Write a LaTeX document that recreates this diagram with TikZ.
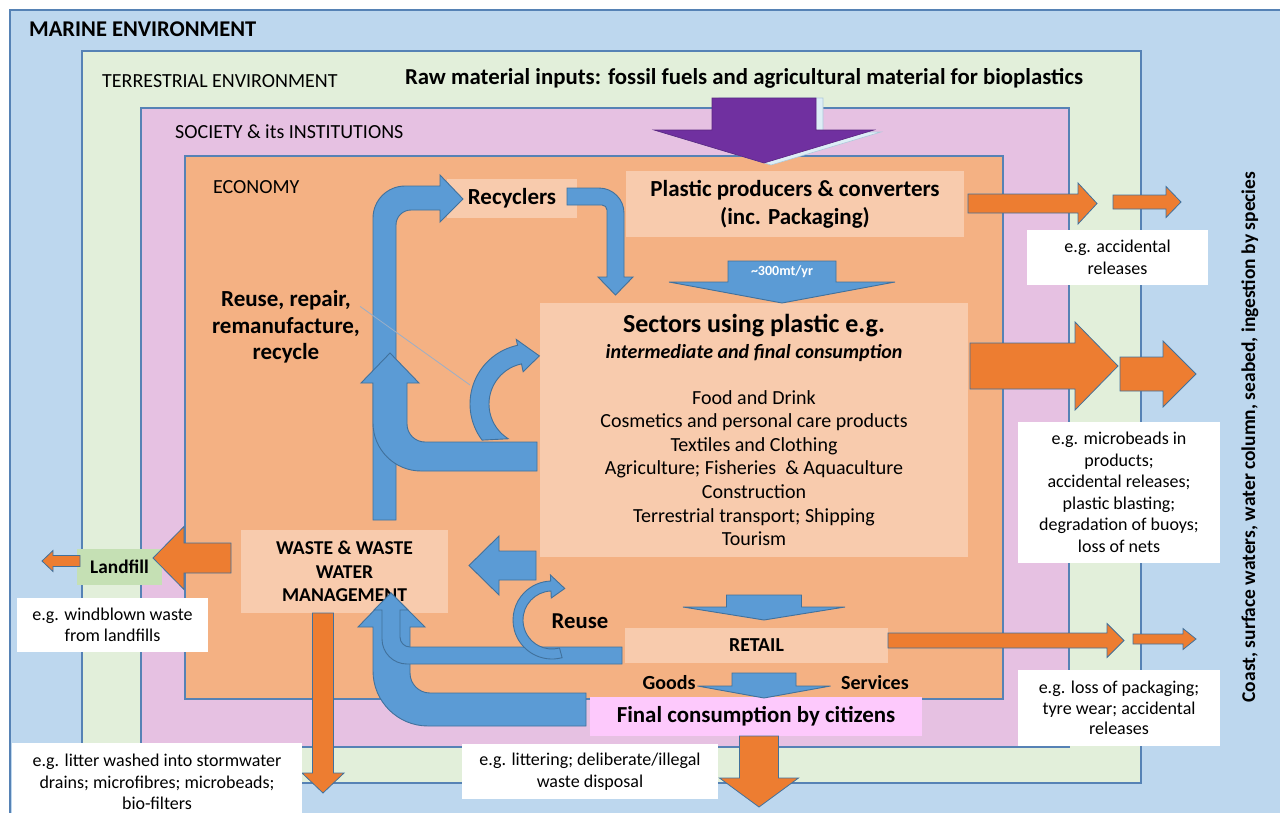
\documentclass[tikz,border=0pt]{standalone}
\usepackage{fontspec}
\setmainfont{Carlito}
\usetikzlibrary{calc}

\definecolor{marine}{HTML}{BDD7EE}
\definecolor{terrestrial}{HTML}{E2EFDA}
\definecolor{society}{HTML}{E6C1E2}
\definecolor{economy}{HTML}{F4B183}
\definecolor{peach}{HTML}{F8CBAD}
\definecolor{landgreen}{HTML}{C5E0B4}
\definecolor{finalpink}{HTML}{FDC9FC}
\definecolor{frame}{HTML}{5682B5}
\definecolor{arrblue}{HTML}{5B9BD5}
\definecolor{arredge}{HTML}{41719C}
\definecolor{arrorange}{HTML}{ED7D31}
\definecolor{arrpurple}{HTML}{7030A0}
\definecolor{purplehi}{HTML}{DDEEF6}
\definecolor{callout}{HTML}{9AAFC8}

% block arrows: style, start, tip, centre, shaft half width, head half width, head length
\newcommand{\rightblock}[7]{%
  \filldraw[#1] (#2,{#4-#5}) -- ({#3-#7},{#4-#5}) -- ({#3-#7},{#4-#6}) -- (#3,#4)
    -- ({#3-#7},{#4+#6}) -- ({#3-#7},{#4+#5}) -- (#2,{#4+#5}) -- cycle;}
\newcommand{\leftblock}[7]{%
  \filldraw[#1] (#2,{#4-#5}) -- ({#3+#7},{#4-#5}) -- ({#3+#7},{#4-#6}) -- (#3,#4)
    -- ({#3+#7},{#4+#6}) -- ({#3+#7},{#4+#5}) -- (#2,{#4+#5}) -- cycle;}
% style, centre, start, tip, shaft half width, head half width, head length
\newcommand{\downblock}[7]{%
  \filldraw[#1] ({#2-#5},#3) -- ({#2-#5},{#4-#7}) -- ({#2-#6},{#4-#7}) -- (#2,#4)
    -- ({#2+#6},{#4-#7}) -- ({#2+#5},{#4-#7}) -- ({#2+#5},#3) -- cycle;}

\begin{document}
\begin{tikzpicture}[x=1pt,y=-1pt,
    region/.style={anchor=west,inner sep=0pt,font=\fontsize{20}{24}\selectfont},
    lightbox/.style={fill=peach,inner sep=0pt,align=center},
    egbox/.style={fill=white,inner sep=0pt,align=center,font=\fontsize{18}{21.5}\selectfont},
    boldtext/.style={inner sep=0pt,align=center,font=\bfseries\fontsize{#1}{#1}\selectfont},
    bluearr/.style={fill=arrblue,draw=arredge,line width=0.9pt},
    orangearr/.style={fill=arrorange,draw=arredge,line width=0.8pt},
    purplearr/.style={fill=arrpurple,draw=arrpurple!80!black,line width=0.6pt},
    purpleedge/.style={fill=purplehi,draw=purplehi!70!arredge,line width=0.6pt}]

    \useasboundingbox (0,0) rectangle (1280,812);
    \fill[white] (0,0) rectangle (1280,812);

    % nested environments
    \filldraw[fill=marine,draw=frame,line width=1.2pt] (10,10) rectangle (1290,830);
    \filldraw[fill=terrestrial,draw=frame,line width=1.2pt] (82,51) rectangle (1141,783);
    \filldraw[fill=society,draw=frame,line width=1.2pt] (141,108) rectangle (1069,747);
    \filldraw[fill=economy,draw=frame,line width=1.2pt] (185,156) rectangle (1003,699);

    \node[boldtext=22.5,anchor=west] (marine) at (29,29) {MARINE ENVIRONMENT};
    \node[region] (terr) at (102,81) {TERRESTRIAL ENVIRONMENT};
    \node[region] (soc) at (175,132) {SOCIETY \& its INSTITUTIONS};
    \node[region] (econ) at (213,187) {ECONOMY};
    \node[boldtext=22.8] (raw) at (744,78) {Raw material inputs: fossil fuels and agricultural material for bioplastics};
    \node[boldtext=19.5,rotate=90] (coast) at (1250,437) {Coast, surface waters, water column, seabed, ingestion by species};

    % boxes of the economy
    \node[lightbox,minimum width=338,minimum height=66,font=\bfseries\fontsize{23}{28}\selectfont] (producers) at (795,204) {Plastic producers \& converters\\(inc. Packaging)};
    \node[lightbox,minimum width=130,minimum height=39,font=\bfseries\fontsize{23}{25}\selectfont] (recyclers) at (512,198.5) {Recyclers};
    \node[lightbox,minimum width=428,minimum height=254] (sectors) at (754,430) {};
    \node[boldtext=26] (sectitle) at (754,326) {Sectors using plastic e.g.};
    \node[inner sep=0pt,font=\bfseries\itshape\fontsize{20}{24}\selectfont] (secsub) at (754,353) {intermediate and final consumption};
    \node[inner sep=0pt,align=center,font=\fontsize{20}{23.6}\selectfont] (seclist) at (754,468) {Food and Drink\\Cosmetics and personal care products\\Textiles and Clothing\\Agriculture; Fisheries \ \& Aquaculture\\Construction\\Terrestrial transport; Shipping\\Tourism};
    \node[lightbox,minimum width=207,minimum height=83,font=\bfseries\fontsize{19.6}{23.5}\selectfont] (waste) at (344.5,571.5) {WASTE \& WASTE\\WATER\\MANAGEMENT};
    \node[fill=landgreen,minimum width=85,minimum height=36,inner sep=0pt,font=\bfseries\fontsize{19.3}{22}\selectfont] (landfill) at (119.5,567) {Landfill};
    \node[lightbox,minimum width=263,minimum height=35,font=\bfseries\fontsize{19.8}{22}\selectfont] (retail) at (756.5,645.5) {RETAIL};
    \node[fill=finalpink,minimum width=332,minimum height=39,inner sep=0pt,font=\bfseries\fontsize{22.9}{26}\selectfont] (final) at (756,716.5) {Final consumption by citizens};
    \node[boldtext=20] (goods) at (669,683) {Goods};
    \node[boldtext=20] (services) at (875,683) {Services};
    \node[boldtext=22.7] (reuse) at (580,621) {Reuse};
    \node[inner sep=0pt,align=center,font=\bfseries\fontsize{23}{26.5}\selectfont] (repair) at (286,327) {Reuse, repair,\\remanufacture,\\recycle};

    % raw material input
    \downblock{purpleedge}{771}{98}{165}{52}{110}{33}
    \downblock{purplearr}{764}{98}{163}{52}{110}{33}

    % flows inside the economy
    \downblock{bluearr}{782}{261}{303}{54}{113}{21}
    \node[boldtext=14,text=white] (mt) at (782,272) {\textasciitilde300mt/yr};
    \downblock{bluearr}{764}{595}{620}{37.5}{81}{13}
    \downblock{bluearr}{764}{673}{698}{32}{66.5}{12}
    \leftblock{bluearr}{536}{469}{565.5}{14.5}{29.5}{30}

    % recycling loop to the recyclers
    \filldraw[bluearr] (373,520) -- (373,218) arc[start angle=180,end angle=270,radius=32] -- (440,186)
        -- (440,175) -- (463,199) -- (440,222) -- (440,210) -- (411,210) arc[start angle=270,end angle=180,radius=15]
        -- (396,520) -- cycle;
    % recyclers to sectors
    \filldraw[bluearr] (567,188) -- (599,188) arc[start angle=270,end angle=360,radius=25] -- (624,277)
        -- (633,277) -- (615.5,295) -- (598,277) -- (607,277) -- (607,210) arc[start angle=0,end angle=-90,radius=5]
        -- (567,205) -- cycle;
    % reuse inside the sectors
    \begin{scope}[shift={(530,404)}]
        \filldraw[bluearr] (143:60) arc[start angle=143,end angle=258,radius=60] -- (258:66) -- (281:49)
            -- (258:33) -- (258:41) arc[start angle=258,end angle=122,radius=41] -- cycle;
    \end{scope}
    \filldraw[bluearr] (537,442) -- (425,442) arc[start angle=90,end angle=180,radius=18] -- (407,383)
        -- (419,383) -- (390,353) -- (361,383) -- (373,383) -- (373,423) arc[start angle=180,end angle=90,radius=48]
        -- (537,471) -- cycle;

    % back to waste management
    \filldraw[bluearr] (586,693) -- (430,693) arc[start angle=90,end angle=180,radius=20] -- (410,627)
        -- (425,627) -- (391,593) -- (358,627) -- (373,627) -- (373,671) arc[start angle=180,end angle=90,radius=55]
        -- (586,726) -- cycle;
    \filldraw[bluearr] (622,647) -- (410,647) arc[start angle=90,end angle=180,radius=10] -- (400,610)
        -- (408,610) -- (391,593) -- (374,610) -- (382,610) -- (382,639) arc[start angle=180,end angle=90,radius=25]
        -- (622,664) -- cycle;
    \begin{scope}[shift={(552,620)}]
        \filldraw[bluearr] (75:39) arc[start angle=75,end angle=268,radius=39] -- (268:45) -- (292:34)
            -- (268:22) -- (268:29) arc[start angle=268,end angle=75,radius=29] -- cycle;
    \end{scope}

    % leakage to the environment
    \rightblock{orangearr}{968}{1097}{203.5}{9.5}{20.5}{19}
    \rightblock{orangearr}{1113}{1181}{202}{7}{15.5}{15}
    \rightblock{orangearr}{970}{1118}{366}{23}{44}{43}
    \rightblock{orangearr}{1120}{1196}{374}{17}{33}{33}
    \rightblock{orangearr}{888}{1124}{640.5}{7.5}{17}{17}
    \rightblock{orangearr}{1133}{1196}{639}{5}{10.5}{13}
    \leftblock{orangearr}{231}{153}{558}{15}{31.5}{31}
    \leftblock{orangearr}{80}{42}{561}{5.5}{10.5}{11}
    \downblock{orangearr}{323}{613}{793}{10.5}{21}{20}
    \downblock{orangearr}{759}{736}{807}{19.5}{39.5}{29}

    % examples of releases
    \node[egbox,minimum width=181,minimum height=55] (accnote) at (1117.5,257.5) {e.g. accidental\\releases};
    \node[egbox,minimum width=202,minimum height=141] (micronote) at (1119,492.5) {e.g. microbeads in\\products;\\accidental releases;\\plastic blasting;\\degradation of buoys;\\loss of nets};
    \node[egbox,minimum width=202,minimum height=76,font=\fontsize{18}{20.5}\selectfont] (packnote) at (1119,708) {e.g. loss of packaging;\\tyre wear; accidental\\releases};
    \node[egbox,minimum width=191,minimum height=54] (windnote) at (112.5,625) {e.g. windblown waste\\from landfills};
    \node[egbox,minimum width=290,minimum height=78] (stormnote) at (157,782) {e.g. litter washed into stormwater\\drains; microfibres; microbeads;\\bio-filters};
    \node[egbox,minimum width=256,minimum height=55] (litternote) at (590,771.5) {e.g. littering; deliberate/illegal\\waste disposal};

    \coordinate (reusetip) at (470,385);
    \draw[callout,line width=0.8pt] (repair.north east) ++(0,16) -- (reusetip);
\end{tikzpicture}
\end{document}
